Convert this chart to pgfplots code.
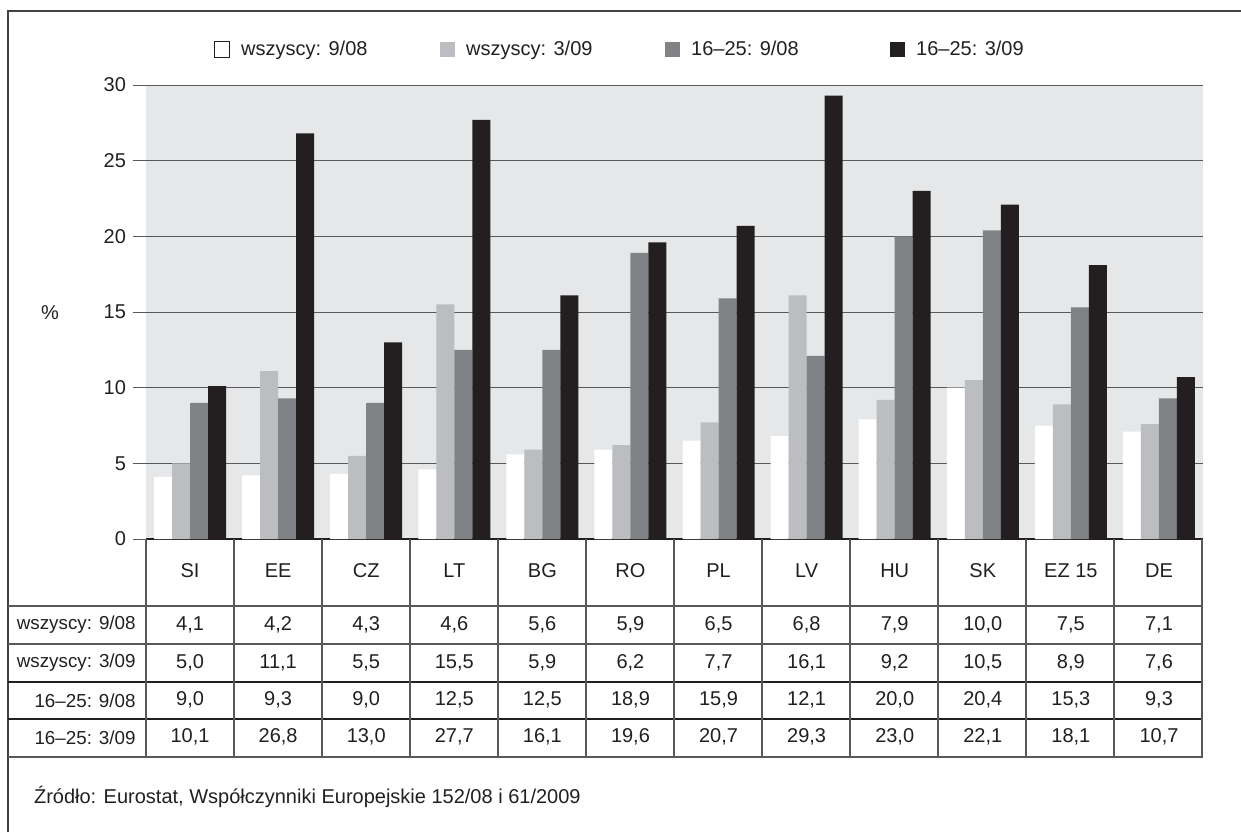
\documentclass[border=0pt]{standalone}
\usepackage{pgfplots}
\pgfplotsset{compat=1.18}
\usepackage{pgfplotstable}
\usepackage{fontspec}
\setmainfont{Liberation Sans}

\definecolor{bgc}{HTML}{E6E7E8}
\definecolor{cA}{HTML}{FFFFFF}
\definecolor{cB}{HTML}{BCBDC0}
\definecolor{cC}{HTML}{808285}
\definecolor{cD}{HTML}{231F20}
\definecolor{rulec}{HTML}{58595B}

% x a=wszyscy 9/08, b=wszyscy 3/09, c=16-25 9/08, d=16-25 3/09
\pgfplotstableread{
x  a    b    c    d
0  4.1  5.0  9.0  10.1
1  4.2  11.1 9.3  26.8
2  4.3  5.5  9.0  13.0
3  4.6  15.5 12.5 27.7
4  5.6  5.9  12.5 16.1
5  5.9  6.2  18.9 19.6
6  6.5  7.7  15.9 20.7
7  6.8  16.1 12.1 29.3
8  7.9  9.2  20.0 23.0
9  10.0 10.5 20.4 22.1
10 7.5  8.9  15.3 18.1
11 7.1  7.6  9.3  10.7
}\data

\newcommand{\legtext}[1]{\makebox[101pt][l]{\hspace{3.5pt}#1}}

\pgfplotsset{
  /pgf/number format/assume math mode=true,
  tabval/.style={draw=none, mark=none, forget plot, point meta=explicit,
    nodes near coords={\pgfmathprintnumber[fixed,fixed zerofill,precision=1,use comma]{\pgfplotspointmeta}},
    nodes near coords align={center},
    every node near coord/.append style={anchor=center, text=cD}},
  boxleg/.style={legend image code/.code={\draw[##1, draw=none] (0pt,-3.75pt) rectangle (7.5pt,3.75pt);}},
}

\begin{document}
\begin{tikzpicture}[font=\fontsize{10}{12}\selectfont]
\path[use as bounding box] (0,0) rectangle (620.5pt,-416pt);
\begin{axis}[
  at={(73pt,-269.5pt)}, anchor=south west,
  scale only axis, width=528.5pt, height=227pt,
  xmin=-0.5, xmax=11.5, ymin=0, ymax=30,
  clip=false,
  axis background/.style={fill=bgc},
  axis x line*=bottom, axis y line*=left,
  x axis line style={draw=cD, line width=0.6pt, -},
  y axis line style={draw=none},
  ytick={0,5,...,30},
  ymajorgrids, grid style={rulec, line width=0.5pt},
  y tick style={rulec, line width=0.5pt},
  tick align=outside, major tick length=6.5pt,
  xtick={0,...,11},
  xticklabels={SI,EE,CZ,LT,BG,RO,PL,LV,HU,SK,EZ 15,DE},
  x tick style={draw=none},
  xticklabel style={anchor=center, yshift=-9.5pt},
  tick label style={text=cD},
  legend columns=4,
  legend style={draw=none, fill=none, at={(rel axis cs:0.058,1.078)}, anchor=west,
    text=cD},
]
\addplot[ybar, bar width=9pt, bar shift=-13.5pt, fill=cA, draw=none,
  legend image code/.code={\draw[fill=white, draw=cD, line width=0.5pt] (0.25pt,-3.75pt) rectangle (8pt,4pt);}]
  table[x=x, y=a] {\data};
\addplot[ybar, bar width=9pt, bar shift=-4.5pt, fill=cB, draw=none, boxleg] table[x=x, y=b] {\data};
\addplot[ybar, bar width=9pt, bar shift=4.5pt, fill=cC, draw=none, boxleg] table[x=x, y=c] {\data};
\addplot[ybar, bar width=9pt, bar shift=13.5pt, fill=cD, draw=none, boxleg] table[x=x, y=d] {\data};
\legend{\legtext{wszyscy: 9/08}, \legtext{wszyscy: 3/09},
  \legtext{16–25: 9/08}, \hspace{3.5pt}16–25: 3/09}

% table values
\addplot[tabval] table[x=x, y expr=-5.658, meta=a] {\data};
\addplot[tabval] table[x=x, y expr=-8.158, meta=b] {\data};
\addplot[tabval] table[x=x, y expr=-10.625, meta=c] {\data};
\addplot[tabval] table[x=x, y expr=-13.092, meta=d] {\data};
\end{axis}

\begin{scope}[x=0.5pt, y=-0.5pt]
\draw[cD!85, line width=0.75pt] (8,832) -- (8,11) -- (1241,11);
\foreach \y in {606,644,757} \draw[rulec, line width=0.6pt] (8,\y) -- (1203,\y);
\foreach \y in {682,719} \draw[cD, line width=0.6pt] (8,\y) -- (1203,\y);
\foreach \i in {0,...,12} \draw[rulec, line width=0.6pt] ({146+88*\i},539) -- ({146+88*\i},757);
\begin{scope}[every node/.style={anchor=east, text=cD, inner sep=0pt, font=\fontsize{9.4}{11}\selectfont}]
\node at (136,625) {wszyscy: 9/08};
\node at (136,663) {wszyscy: 3/09};
\node at (136,700.5) {16–25: 9/08};
\node at (136,738) {16–25: 3/09};
\end{scope}
\node[text=cD] at (50,313) {\%};
\node[anchor=west, text=cD] at (27,797) {Źródło: Eurostat, Współczynniki Europejskie 152/08 i 61/2009};
\end{scope}
\end{tikzpicture}
\end{document}
